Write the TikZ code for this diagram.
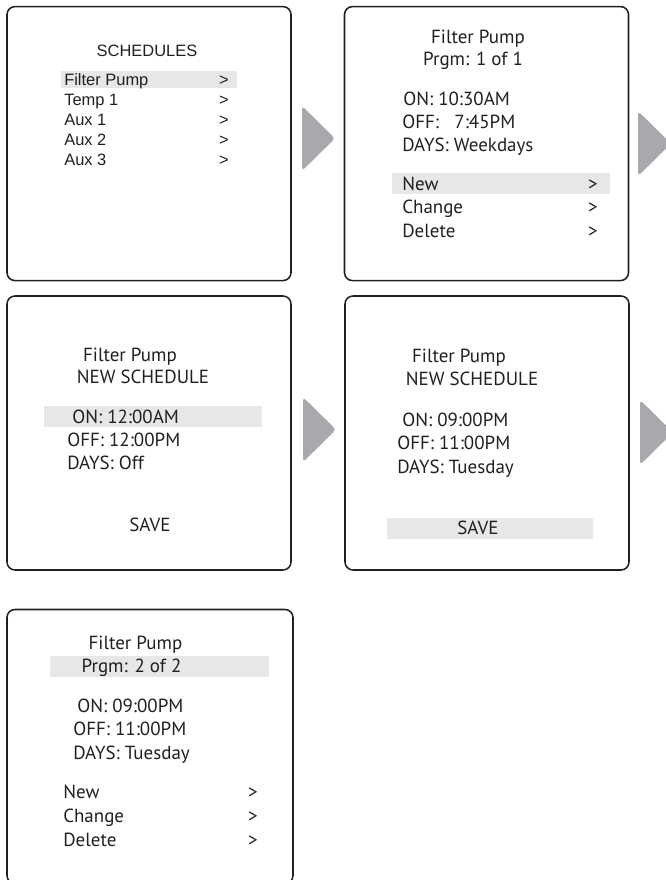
\documentclass[tikz,border=0pt]{standalone}
\usepackage{fontspec}
\setmainfont{PT Sans}
\newfontfamily\arialfont{Liberation Sans}
\usetikzlibrary{shapes.geometric,backgrounds}
\definecolor{ink}{RGB}{35,31,32}
\definecolor{selgray}{RGB}{230,231,232}
\definecolor{stepgray}{RGB}{167,169,172}

\begin{document}
\begin{tikzpicture}[
  x=1cm,y=1cm,
  screen/.style={draw=ink,line width=1.1pt,rounded corners=.2cm,
                 minimum width=7.1cm,minimum height=6.85cm,inner sep=0pt},
  onward/.style={isosceles triangle,isosceles triangle stretches,
                 minimum width=1.625cm,minimum height=.825cm,inner sep=0pt,
                 outer sep=0pt,fill=stepgray,rounded corners=2.5pt},
  sel/.style={fill=selgray},
  lcd/.style={font=\fontsize{13.5}{16}\selectfont,text=ink,inner sep=0pt},
  menu/.style={font=\arialfont\fontsize{11.7}{14}\selectfont,text=ink,
               inner sep=0pt}
]
\useasboundingbox (0,0) rectangle (16.625,22);

% Screen 1: schedule list.
\node[screen] (schedules) at (3.725,18.41) {};
\begin{scope}[on background layer]
  \fill[sel] (1.525,19.80) rectangle (5.925,20.225);
\end{scope}
\node[menu,anchor=base] (schedtitle) at (3.675,20.583) {SCHEDULES};
\foreach \yy/\lab [count=\i] in {19.87/Filter Pump,19.37/Temp 1,
    18.87/Aux 1,18.37/Aux 2,17.87/Aux 3}{
  \node[menu,anchor=base west] (sched\i) at (1.60,\yy) {\lab};
  \node[menu,anchor=base] (schedgo\i) at (5.60,\yy) {>};
}
\node[onward,anchor=west] (go1) at (7.55,18.54) {};

% Screen 2: existing program.
\node[screen] (prgmone) at (12.1625,18.41) {};
\begin{scope}[on background layer]
  \fill[sel] (9.80,17.15) rectangle (15.25,17.675);
\end{scope}
\node[lcd,anchor=base] (pumpA) at (11.95,20.917) {Filter Pump};
\node[lcd,anchor=base] (prgmA) at (11.825,20.35) {Prgm: 1 of 1};
\node[lcd,anchor=base west] (onA) at (10.075,19.35) {ON: 10:30AM};
\node[lcd,anchor=base west] (offA) at (10.05,18.775) {OFF: \hphantom{0}7:45PM};
\node[lcd,anchor=base west] (daysA) at (10.05,18.21) {DAYS: Weekdays};
\foreach \yy/\lab [count=\i] in {17.233/New,16.65/Change,16.067/Delete}{
  \node[lcd,anchor=base west] (actA\i) at (10.05,\yy) {\lab};
  \node[lcd,anchor=base] (actAgo\i) at (14.825,\yy) {>};
}
\node[onward,anchor=west] (go2) at (15.95,18.41) {};

% Screen 3: new schedule, defaults.
\node[screen] (newblank) at (3.725,11.175) {};
\begin{scope}[on background layer]
  \fill[sel] (1.10,11.325) rectangle (6.55,11.85);
\end{scope}
\node[lcd,anchor=base] (pumpB) at (3.25,12.96) {Filter Pump};
\node[lcd,anchor=base] (newB) at (3.575,12.40) {NEW SCHEDULE};
\node[lcd,anchor=base west] (onB) at (1.80,11.42) {ON: 12:00AM};
\node[lcd,anchor=base west] (offB) at (1.675,10.83) {OFF: 12:00PM};
\node[lcd,anchor=base west] (daysB) at (1.675,10.25) {DAYS: Off};
\node[lcd,anchor=base] (saveB) at (3.75,8.71) {SAVE};
\node[onward,anchor=west] (go3) at (7.575,11.26) {};

% Screen 4: new schedule, edited.
\node[screen] (newset) at (12.175,11.175) {};
\begin{scope}[on background layer]
  \fill[sel] (9.675,8.525) rectangle (14.825,9.05);
\end{scope}
\node[lcd,anchor=base] (pumpC) at (11.475,12.93) {Filter Pump};
\node[lcd,anchor=base] (newC) at (11.80,12.37) {NEW SCHEDULE};
\node[lcd,anchor=base west] (onC) at (10.05,11.33) {ON: 09:00PM};
\node[lcd,anchor=base west] (offC) at (9.925,10.75) {OFF: 11:00PM};
\node[lcd,anchor=base west] (daysC) at (9.925,10.17) {DAYS: Tuesday};
\node[lcd,anchor=base] (saveC) at (11.95,8.625) {SAVE};
\node[onward,anchor=west] (go4) at (16.00,11.19) {};

% Screen 5: second program stored.
\node[screen,minimum width=7.15cm] (prgmtwo) at (3.75,3.3375) {};
\begin{scope}[on background layer]
  \fill[sel] (1.25,5.075) rectangle (6.725,5.60);
\end{scope}
\node[lcd,anchor=base] (pumpD) at (3.3875,5.77) {Filter Pump};
\node[lcd,anchor=base] (prgmD) at (3.2875,5.18) {Prgm: 2 of 2};
\node[lcd,anchor=base west] (onD) at (1.925,4.19) {ON: 09:00PM};
\node[lcd,anchor=base west] (offD) at (1.825,3.61) {OFF: 11:00PM};
\node[lcd,anchor=base west] (daysD) at (1.825,3.00) {DAYS: Tuesday};
\foreach \yy/\lab [count=\i] in {2.04/New,1.43/Change,0.83/Delete}{
  \node[lcd,anchor=base west] (actD\i) at (1.575,\yy) {\lab};
  \node[lcd,anchor=base] (actDgo\i) at (6.325,\yy) {>};
}

\end{tikzpicture}
\end{document}
